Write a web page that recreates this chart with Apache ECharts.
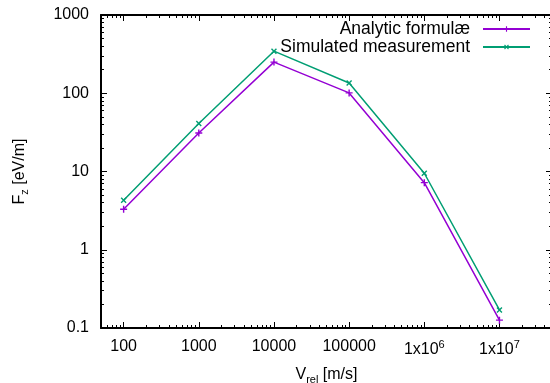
<!DOCTYPE html>
<html>
<head>
<meta charset="utf-8">
<script src="https://cdn.jsdelivr.net/npm/echarts@6/dist/echarts.min.js"></script>
<style>
  html, body { margin: 0; padding: 0; background: #fff; }
  #chart { width: 550px; height: 383px; }
</style>
</head>
<body>
<div id="chart"></div>
<script>
// relative velocity (m/s)
const velocities = [100, 1000, 10000, 100000, 1000000, 10000000];
// F_z in eV/m
const analytic = [3.3, 31, 250, 101, 7.2, 0.126];
const simulated = [4.3, 41, 345, 135, 9.5, 0.17];

const xMajor = [100, 1000, 10000, 100000, 1000000, 10000000];
const xMinor = [60, 70, 80, 90,
  200, 300, 400, 500, 600, 700, 800, 900,
  2000, 3000, 4000, 5000, 6000, 7000, 8000, 9000,
  20000, 30000, 40000, 50000, 60000, 70000, 80000, 90000,
  200000, 300000, 400000, 500000, 600000, 700000, 800000, 900000,
  2e6, 3e6, 4e6, 5e6, 6e6, 7e6, 8e6, 9e6,
  2e7, 3e7, 4e7];
const yMajor = [0.1, 1, 10, 100, 1000];
const yMinor = [0.2, 0.3, 0.4, 0.5, 0.6, 0.7, 0.8, 0.9,
  2, 3, 4, 5, 6, 7, 8, 9,
  20, 30, 40, 50, 60, 70, 80, 90,
  200, 300, 400, 500, 600, 700, 800, 900];

const FONT = '"Liberation Sans", Arial, sans-serif';
const PLUS = 'path://M4,0H6V4H10V6H6V10H4V6H0V4H4Z';

const xLabel = (v) => {
  if (v >= 1e6) return '1x10{sup|' + Math.round(Math.log10(v)) + '}';
  return String(Math.round(v));
};

const chart = echarts.init(document.getElementById('chart'));

// builds one axis of a given kind: major/minor, main/mirror
const makeX = (position, ticks, len, withLine, withLabel) => ({
  type: 'log', logBase: 10, min: 50, max: 5e7, position: position,
  axisLine: { show: withLine, lineStyle: { color: '#000', width: 2 } },
  axisTick: { show: true, inside: true, length: len, customValues: ticks,
    lineStyle: { color: '#000', width: 1 } },
  axisLabel: withLabel ? {
    show: true, customValues: ticks, margin: 11, formatter: xLabel,
    color: '#000', fontSize: 16, fontFamily: FONT,
    rich: { sup: { fontSize: 11, fontFamily: FONT, color: '#000', padding: [0, 0, 10, 0] } }
  } : { show: false },
  splitLine: { show: false }, minorTick: { show: false }
});

const makeY = (position, ticks, len, withLine, withLabel) => ({
  type: 'log', logBase: 10, min: 0.1, max: 1000, position: position,
  axisLine: { show: withLine, lineStyle: { color: '#000', width: 2 } },
  axisTick: { show: true, inside: true, length: len, customValues: ticks,
    lineStyle: { color: '#000', width: 1 } },
  axisLabel: withLabel ? {
    show: true, customValues: ticks, margin: 12,
    formatter: (v) => String(v),
    color: '#000', fontSize: 16, fontFamily: FONT
  } : { show: false },
  splitLine: { show: false }, minorTick: { show: false }
});

const xMain = makeX('bottom', xMajor, 6, true, true);
xMain.name = 'V{sub|rel} [m/s]';
xMain.nameLocation = 'middle';
xMain.nameGap = 37;
xMain.nameTextStyle = { color: '#000', fontSize: 16, fontFamily: FONT,
  rich: { sub: { fontSize: 11, fontFamily: FONT, color: '#000', padding: [9, 0, 0, 0] } } };

const yMain = makeY('left', yMajor, 6, true, true);
yMain.name = 'F{sub|z} [eV/m]';
yMain.nameLocation = 'middle';
yMain.nameGap = 71;
yMain.nameTextStyle = { color: '#000', fontSize: 16, fontFamily: FONT,
  rich: { sub: { fontSize: 11, fontFamily: FONT, color: '#000', padding: [9, 0, 0, 0] } } };

chart.setOption({
  backgroundColor: '#fff',
  animation: false,
  grid: { left: 101, top: 15, width: 451, height: 313, containLabel: false, outerBoundsMode: 'none' },
  legend: {
    orient: 'vertical', right: 14, top: 15, align: 'right',
    itemWidth: 47, itemHeight: 7, itemGap: 0,
    textStyle: { color: '#000', fontSize: 17.5, fontFamily: FONT, lineHeight: 17, padding: [0, 8, 0, 0] },
    data: ['Analytic formulæ', 'Simulated measurement']
  },
  xAxis: [
    xMain,
    makeX('bottom', xMinor, 3, false, false),
    makeX('top', xMajor, 6, true, false),
    makeX('top', xMinor, 3, false, false)
  ],
  yAxis: [
    yMain,
    makeY('left', yMinor, 3, false, false),
    makeY('right', yMajor, 6, true, false),
    makeY('right', yMinor, 3, false, false)
  ],
  series: [
    {
      name: 'Analytic formulæ', type: 'line',
      data: velocities.map((v, i) => [v, analytic[i]]),
      symbol: PLUS, symbolSize: 7,
      lineStyle: { color: '#9400d3', width: 1.5 },
      itemStyle: { color: '#9400d3' }
    },
    {
      name: 'Simulated measurement', type: 'line',
      data: velocities.map((v, i) => [v, simulated[i]]),
      symbol: PLUS, symbolSize: 7, symbolRotate: 45,
      lineStyle: { color: '#009e73', width: 1.5 },
      itemStyle: { color: '#009e73' }
    }
  ]
});
</script>
</body>
</html>
